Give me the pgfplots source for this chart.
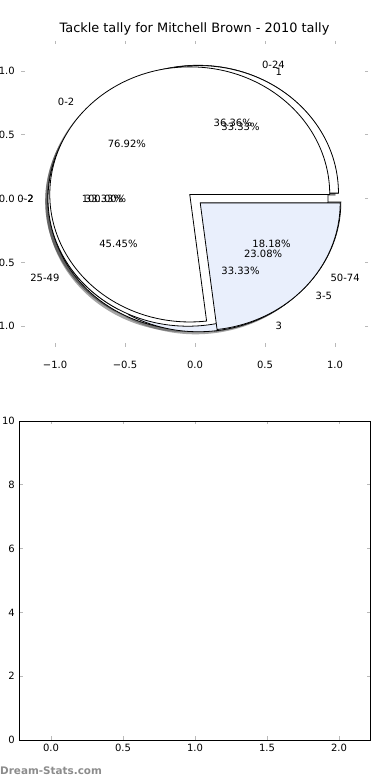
\documentclass[border=0pt]{standalone}
\usepackage{pgfplots}
\pgfplotsset{compat=1.18}
\usepackage{fontspec}
\setmainfont{DejaVu Sans}
\definecolor{pieblue}{RGB}{233,239,252}
\definecolor{tickgray}{RGB}{185,185,185}
\definecolor{wmgray}{RGB}{140,140,140}

% one wedge: #1 start percent, #2 end percent, #3 path options, #4 dx, #5 dy (shadow offset)
\newcommand\slice[5]{%
  \pgfmathsetmacro\sa{3.6*#1}%
  \pgfmathsetmacro\sb{3.6*#2}%
  \pgfmathsetmacro\sm{(\sa+\sb)/2}%
  \pgfmathsetmacro\cx{0.05*cos(\sm)+#4}%
  \pgfmathsetmacro\cy{0.05*sin(\sm)+#5}%
  \pgfmathsetmacro\ax{\cx+cos(\sa)}%
  \pgfmathsetmacro\ay{\cy+sin(\sa)}%
  \path[#3] (\cx,\cy) -- (\ax,\ay) arc[start angle=\sa, end angle=\sb, radius=1] -- cycle;%
}
% full pie (100 percent), exploded toward 180 degrees
\newcommand\fullslice[3]{%
  \pgfmathsetmacro\cx{-0.05+#2}%
  \pgfmathsetmacro\cy{0+#3}%
  \path[#1] (\cx,\cy) circle[radius=1];%
}
% labels: #1 start %, #2 end %, #3 label, #4 percent text
\newcommand\slicelabel[4]{%
  \pgfmathsetmacro\sm{1.8*(#1+#2)}%
  \pgfmathsetmacro\lx{1.15*cos(\sm)}%
  \pgfmathsetmacro\ly{1.15*sin(\sm)}%
  \pgfmathsetmacro\px{0.65*cos(\sm)}%
  \pgfmathsetmacro\py{0.65*sin(\sm)}%
  \pgfmathparse{\lx>0?1:0}%
  \ifnum\pgfmathresult=1
    \node[anchor=west,inner sep=0pt] at (\lx,\ly) {#3};%
  \else
    \node[anchor=east,inner sep=0pt] at (\lx,\ly) {#3};%
  \fi
  \node[inner sep=0pt] at (\px,\py) {#4};%
}

\begin{document}
\begin{tikzpicture}
\useasboundingbox (0pt,0pt) rectangle (390pt,780pt);

\begin{axis}[
  at={(21pt,433pt)}, anchor=south west, scale only axis,
  width=347pt, height=306pt,
  xmin=-1.243, xmax=1.236, ymin=-1.163, ymax=1.236,
  axis line style={draw=none},
  xtick={-1,-0.5,0,0.5,1}, xticklabels={−1.0,−0.5,0.0,0.5,1.0},
  ytick={-1,-0.5,0,0.5,1}, yticklabels={−1.0,−0.5,0.0,0.5,1.0},
  tick style={tickgray, line width=0.8pt}, major tick length=3.5pt,
  tick align=inside, tickpos=both,
  ticklabel style={font=\fontsize{10}{12}\selectfont},
  xticklabel style={yshift=-11pt},
  yticklabel style={xshift=-2.7pt},
  clip=false,
]
\pgfplotsextra{%
  % shadows of all wedges (drawn first)
  \fullslice{fill=black!70, opacity=0.5}{-0.02}{-0.02}
  \slice{0}{36.36}{fill=black!70, opacity=0.5}{-0.02}{-0.02}
  \slice{36.36}{81.82}{fill=black!70, opacity=0.5}{-0.02}{-0.02}
  \slice{81.82}{100}{fill=black!70, opacity=0.5}{-0.02}{-0.02}
  \slice{0}{33.33}{fill=black!70, opacity=0.5}{-0.02}{-0.02}
  \slice{33.33}{66.67}{fill=black!70, opacity=0.5}{-0.02}{-0.02}
  \slice{66.67}{100}{fill=black!70, opacity=0.5}{-0.02}{-0.02}
  \slice{0}{76.92}{fill=black!70, opacity=0.5}{-0.02}{-0.02}
  \slice{76.92}{100}{fill=black!70, opacity=0.5}{-0.02}{-0.02}
  % pie: 0-24 / 25-49 / 50-74
  \slice{0}{36.36}{fill=white, draw=black, line width=0.8pt}{0}{0}
  \slice{36.36}{81.82}{fill=white, draw=black, line width=0.8pt}{0}{0}
  \slice{81.82}{100}{fill=white, draw=black, line width=0.8pt}{0}{0}
  % pie: 1 / 2 / 3
  \slice{0}{33.33}{fill=white, draw=black, line width=0.8pt}{0}{0}
  \slice{33.33}{66.67}{fill=white, draw=black, line width=0.8pt}{0}{0}
  \slice{66.67}{100}{fill=pieblue, draw=black, line width=0.8pt}{0}{0}
  % pie: 100 %
  \fullslice{fill=white, draw=black, line width=0.8pt}{0}{0}
  % pie: 0-2 / 3-5
  \slice{0}{76.92}{fill=white, draw=black, line width=0.8pt}{0}{0}
  \slice{76.92}{100}{fill=pieblue, draw=black, line width=0.8pt}{0}{0}
  % labels
  \begingroup\fontsize{10}{12}\selectfont
  \slicelabel{0}{36.36}{0-24}{36.36\%}
  \slicelabel{36.36}{81.82}{25-49}{45.45\%}
  \slicelabel{81.82}{100}{50-74}{18.18\%}
  \slicelabel{0}{33.33}{1}{33.33\%}
  \slicelabel{33.33}{66.67}{2}{33.33\%}
  \slicelabel{66.67}{100}{3}{33.33\%}
  \slicelabel{0}{100}{0-2}{100.00\%}
  \slicelabel{0}{76.92}{0-2}{76.92\%}
  \slicelabel{76.92}{100}{3-5}{23.08\%}
  \endgroup
}
\end{axis}
\node[font=\fontsize{12.9}{15}\selectfont] at (194.5pt,751pt) {Tackle tally for Mitchell Brown - 2010 tally};

\begin{axis}[
  at={(19pt,40pt)}, anchor=south west, scale only axis,
  width=351pt, height=319pt,
  xmin=-0.222, xmax=2.215, ymin=0, ymax=10,
  axis line style={black, line width=0.8pt},
  xtick={0,0.5,1,1.5,2}, xticklabels={0.0,0.5,1.0,1.5,2.0},
  ytick={0,2,4,6,8,10}, yticklabels={0,2,4,6,8,10},
  tick style={tickgray, line width=0.8pt}, major tick length=3.5pt,
  tick align=inside, tickpos=both,
  ticklabel style={font=\fontsize{10}{12}\selectfont},
  xticklabel style={yshift=-1pt},
  yticklabel style={xshift=-0.7pt},
]
\end{axis}
\node[anchor=west, inner sep=0pt, text=wmgray, font=\bfseries\fontsize{10.4}{12}\selectfont] at (0pt,9pt) {Dream-Stats.com};
\end{tikzpicture}
\end{document}
